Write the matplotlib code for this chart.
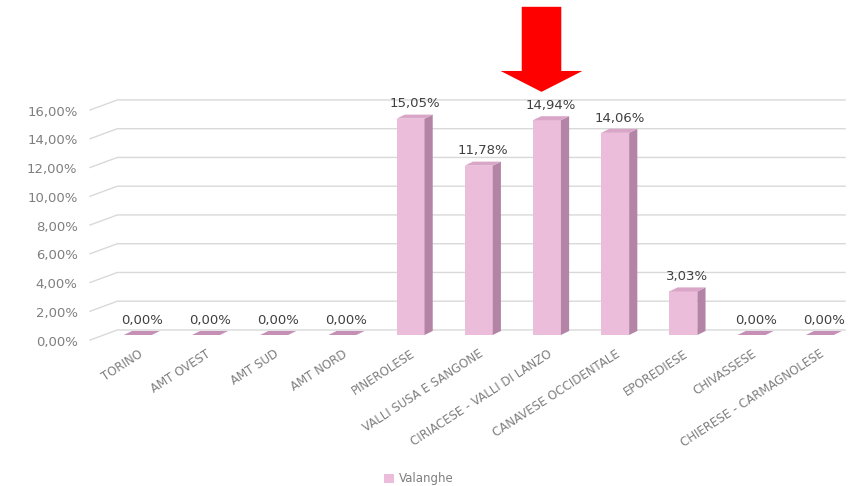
import matplotlib.pyplot as plt
from matplotlib.patches import Polygon
from matplotlib.transforms import ScaledTranslation, blended_transform_factory

# dati
categories = ["TORINO", "AMT OVEST", "AMT SUD", "AMT NORD", "PINEROLESE",
              "VALLI SUSA E SANGONE", "CIRIACESE - VALLI DI LANZO",
              "CANAVESE OCCIDENTALE", "EPOREDIESE", "CHIVASSESE",
              "CHIERESE - CARMAGNOLESE"]
valanghe = [0.00, 0.00, 0.00, 0.00, 15.05, 11.78, 14.94, 14.06, 3.03, 0.00, 0.00]
yticks = [0, 2, 4, 6, 8, 10, 12, 14, 16]
highlight = "CIRIACESE - VALLI DI LANZO"

FRONT = "#ecbcdb"
SIDE = "#b484a6"
TOP = "#d9a6c8"
GRID = "#d9d9d9"
TXT = "#7f7f7f"

fig = plt.figure(figsize=(8.55, 4.86), dpi=100)
ax = fig.add_axes([0.1053, 0.3107, 0.883, 0.4733])
ax.set_xlim(-0.70, 10.37)
ax.set_ylim(0, 16)

# profondita' 3D (unita' dati)
bw = 0.41
ddx, ddy = 0.12, 0.28
back = 0.35       # pareti di fondo piu' in alto
front = -0.35     # inizio diagonale
x0 = ax.get_xlim()[0]
x1 = ax.get_xlim()[1]

for v in yticks:
    ax.plot([x0, x0 + 0.40, x1], [v + front, v + back, v + back],
            color=GRID, lw=1.0, zorder=0, clip_on=False)

xs = list(range(len(categories)))
ax.bar(xs, valanghe, width=bw, color=FRONT, zorder=3, edgecolor="none")
for x, v in zip(xs, valanghe):
    l, r = x - bw / 2, x + bw / 2
    ax.add_patch(Polygon([(r, 0), (r + ddx, ddy), (r + ddx, v + ddy), (r, v)],
                         closed=True, fc=SIDE, ec="none", zorder=3))
    ax.add_patch(Polygon([(l, v), (l + ddx, v + ddy), (r + ddx, v + ddy), (r, v)],
                         closed=True, fc=TOP if v > 0 else "#c58fb6", ec="none", zorder=4))
    ax.annotate(f"{v:.2f}%".replace(".", ","), (x + ddx / 2, v + ddy),
                xytext=(0, 3), textcoords="offset points", ha="center",
                va="bottom", fontsize=9.5, color="#404040", zorder=5)

for s in ax.spines.values():
    s.set_visible(False)
ax.tick_params(length=0)
ax.set_yticks(yticks)
ax.set_yticklabels([f"{t:.2f}%".replace(".", ",") for t in yticks],
                   fontsize=9.5, color=TXT)
ax.tick_params(axis="y", pad=9)
for lbl in ax.get_yticklabels():
    lbl.set_transform(lbl.get_transform() + ScaledTranslation(0, -4 / 72, fig.dpi_scale_trans))
ax.set_xticks(xs)
ax.set_xticklabels(categories, rotation=33, ha="right", rotation_mode="anchor",
                   fontsize=8.5, color=TXT)
ax.tick_params(axis="x", pad=9)

# freccia rossa sulla categoria evidenziata
hx = categories.index(highlight) - 0.08
tr = blended_transform_factory(ax.transData, fig.transFigure)
arrow = [(hx - 0.29, 0.986), (hx + 0.29, 0.986), (hx + 0.29, 0.854),
         (hx + 0.60, 0.854), (hx, 0.811), (hx - 0.60, 0.854), (hx - 0.29, 0.854)]
fig.patches.append(Polygon(arrow, closed=True, transform=tr, fc="#ff0000",
                           ec="none", figure=fig))

leg = fig.legend([plt.Rectangle((0, 0), 1, 1, fc=FRONT)], ["Valanghe"],
                 loc="center", bbox_to_anchor=(0.49, 0.015), frameon=False,
                 fontsize=8.5, handlelength=0.8, handleheight=0.8, handletextpad=0.4)
for t in leg.get_texts():
    t.set_color(TXT)

fig.savefig("out.png", dpi=100, facecolor="white")
